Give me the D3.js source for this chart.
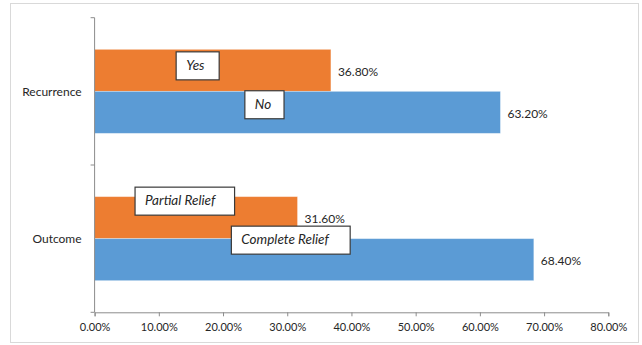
<!DOCTYPE html>
<html>
<head>
<meta charset="utf-8">
<script src="https://cdn.jsdelivr.net/npm/d3@7"></script>
<style>
  html, body { margin: 0; padding: 0; background: #fff; }
  svg { display: block; font-family: Lato, "Open Sans", sans-serif; }
</style>
</head>
<body>
<svg id="chart" width="642" height="345"></svg>
<script>
// Chart data
const categories = ["Recurrence", "Outcome"];
const seriesNames = ["first", "second"];
const firstValues = [36.8, 31.6];    // orange bars
const secondValues = [63.2, 68.4];   // blue bars
const firstNotes = ["Yes", "Partial Relief"];
const secondNotes = ["No", "Complete Relief"];
const xTicks = [0, 10, 20, 30, 40, 50, 60, 70, 80];

// Callout boxes, in data units: [x start, x end, vertical offset from bar centre]
const noteLayout = {
  first: [[12.7, 19.4, -4.5], [6.3, 21.8, -16.5]],
  second: [[23.4, 29.5, -7.6], [21.3, 39.8, -19.5]]
};

const colors = { first: "#ED7D31", second: "#5B9BD5" };
const textColor = "#262626";
const axisColor = "#8c8c8c";

const svg = d3.select("#chart");
const margin = { left: 94.6, right: 642 - 608.3, top: 17.7, bottom: 345 - 312.3 };
const width = 642, height = 345;

// outer chart frame
svg.append("rect")
  .attr("x", 10.5).attr("y", 3.5)
  .attr("width", 628).attr("height", 339)
  .attr("fill", "#fff")
  .attr("stroke", "#d9d9d9")
  .attr("stroke-width", 1);

const x = d3.scaleLinear()
  .domain([0, 80])
  .range([margin.left, width - margin.right]);

const y = d3.scaleBand()
  .domain(categories)
  .range([margin.top, height - margin.bottom]);

// bars take 84 of each 147 band (Excel gap width 150%)
const barH = y.bandwidth() * 84 / 147.3;
const ySeries = d3.scaleBand()
  .domain(seriesNames)
  .range([(y.bandwidth() - barH) / 2, (y.bandwidth() + barH) / 2]);

const rows = categories.map((c, i) => ({
  category: c,
  first: firstValues[i],
  second: secondValues[i],
  firstNote: firstNotes[i],
  secondNote: secondNotes[i],
  idx: i
}));

// bars
const groups = svg.append("g").selectAll("g.cat")
  .data(rows)
  .join("g")
  .attr("class", "cat")
  .attr("transform", d => `translate(0,${y(d.category)})`);

seriesNames.forEach(s => {
  groups.append("rect")
    .attr("x", x(0))
    .attr("y", ySeries(s))
    .attr("width", d => x(d[s]) - x(0))
    .attr("height", ySeries.bandwidth())
    .attr("fill", colors[s])
    .attr("stroke", "#ffffff")
    .attr("stroke-opacity", 0.4)
    .attr("stroke-width", 0.8);

  // value labels
  groups.append("text")
    .attr("x", d => x(d[s]) + 7)
    .attr("y", ySeries(s) + ySeries.bandwidth() / 2 + 1)
    .attr("dominant-baseline", "central")
    .attr("font-size", 12)
    .attr("fill", textColor)
    .text(d => d[s].toFixed(2) + "%");
});

// x axis
const xAxis = d3.axisBottom(x)
  .tickValues(xTicks)
  .tickSize(4)
  .tickFormat(d => d.toFixed(2) + "%");

const gx = svg.append("g")
  .attr("transform", `translate(0,${height - margin.bottom})`)
  .call(xAxis);
gx.select(".domain").attr("stroke", axisColor);
gx.selectAll(".tick line").attr("stroke", axisColor);
gx.selectAll(".tick text")
  .attr("font-size", 11)
  .attr("font-family", "Lato, sans-serif")
  .attr("fill", textColor)
  .attr("dy", "1.05em");

// y axis: line with ticks at band edges, labels at band centres
const gy = svg.append("g");
gy.append("line")
  .attr("x1", x(0)).attr("x2", x(0))
  .attr("y1", margin.top).attr("y2", height - margin.bottom)
  .attr("stroke", axisColor);
const edges = categories.map(c => y(c)).concat([y.range()[1]]);
gy.selectAll("line.tk")
  .data(edges)
  .join("line")
  .attr("class", "tk")
  .attr("x1", x(0) - 4).attr("x2", x(0))
  .attr("y1", d => d).attr("y2", d => d)
  .attr("stroke", axisColor);
gy.selectAll("text")
  .data(categories)
  .join("text")
  .attr("x", x(0) - 13)
  .attr("y", d => y(d) + y.bandwidth() / 2)
  .attr("text-anchor", "end")
  .attr("dominant-baseline", "central")
  .attr("font-size", 12)
  .attr("fill", textColor)
  .text(d => d);

// callout boxes
seriesNames.forEach(s => {
  const notes = svg.append("g").selectAll("g")
    .data(rows)
    .join("g");
  const boxH = 28;
  notes.append("rect")
    .attr("x", d => x(noteLayout[s][d.idx][0]))
    .attr("y", d => y(d.category) + ySeries(s) + ySeries.bandwidth() / 2 + noteLayout[s][d.idx][2] - boxH / 2)
    .attr("width", d => x(noteLayout[s][d.idx][1]) - x(noteLayout[s][d.idx][0]))
    .attr("height", boxH)
    .attr("fill", "#fff")
    .attr("stroke", "#3a3a3a")
    .attr("stroke-width", 1.2);
  notes.append("text")
    .attr("x", d => x(noteLayout[s][d.idx][0]) + 10)
    .attr("y", d => y(d.category) + ySeries(s) + ySeries.bandwidth() / 2 + noteLayout[s][d.idx][2] - 1)
    .attr("dominant-baseline", "central")
    .attr("font-size", 13.5)
    .attr("font-style", "italic")
    .attr("fill", textColor)
    .text(d => d[s + "Note"]);
});
</script>
</body>
</html>
